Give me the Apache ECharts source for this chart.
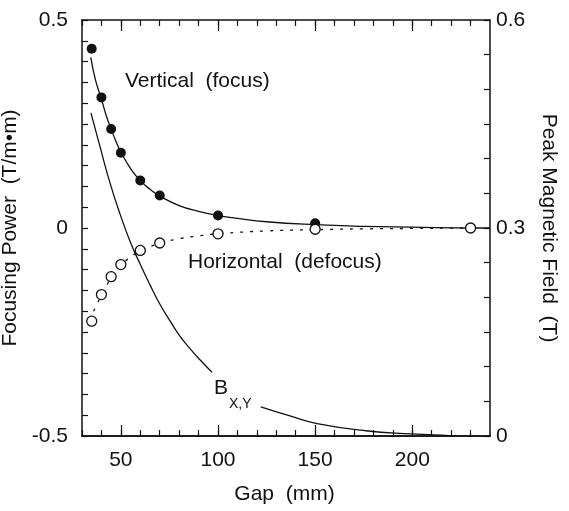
<!DOCTYPE html>
<html>
<head>
<meta charset="utf-8">
<script src="https://cdn.jsdelivr.net/npm/echarts@6/dist/echarts.min.js"></script>
<style>
  html, body { margin: 0; padding: 0; background: #fff; }
  #chart { width: 569px; height: 511px; }
</style>
</head>
<body>
<div id="chart"></div>
<script>
// measured points
const vGap = [35, 40, 45, 50, 60, 70, 100, 150];
const vVal = [0.431, 0.314, 0.238, 0.181, 0.114, 0.078, 0.030, 0.0115];
const hGap = [35, 40, 45, 50, 60, 70, 100, 150, 230];
const hVal = [-0.224, -0.160, -0.117, -0.088, -0.054, -0.036, -0.014, -0.003, 0];

// fitted curves
const vFitGap = [34.5, 37, 40, 42.5, 45, 47.5, 50, 55, 60, 65, 70, 80, 90, 100, 110, 125, 150, 175, 200, 230, 240];
const vFitVal = [0.41, 0.355, 0.31, 0.27, 0.238, 0.208, 0.183, 0.143, 0.114, 0.093, 0.077, 0.054, 0.040, 0.030, 0.023, 0.015, 0.008, 0.004, 0.002, 0.0, 0.0];
const hFitGap = [36, 40, 45, 50, 55, 60, 70, 80, 90, 100, 125, 150, 175, 200, 230];
const hFitVal = [-0.2, -0.162, -0.12, -0.09, -0.07, -0.056, -0.037, -0.026, -0.019, -0.014, -0.007, -0.004, -0.002, -0.001, 0];
// peak field, right axis (T); null leaves room for the label
const bGap = [34.6, 39.3, 44.4, 49.6, 54.7, 59.9, 65, 70.1, 75.3, 80.4, 85.6, 90.7, 96.9, 110, 122, 137, 151, 176, 200, 219, 222];
const bVal = [0.466, 0.417, 0.365, 0.32, 0.281, 0.248, 0.218, 0.19, 0.166, 0.144, 0.126, 0.11, 0.092, null, 0.042, 0.029, 0.018, 0.0076, 0.003, 0.0005, 0];

const xMajor = [50, 100, 150, 200];

const font = "'Liberation Sans', Arial, Helvetica, sans-serif";
const black = '#111';
const clear = 'rgba(0,0,0,0)';
const zip = (a, b) => a.map((x, i) => [x, b[i]]);

const rect = { left: 82, right: 79, top: 20, bottom: 75, outerBoundsMode: 'none' };

// second grid on the same rectangle only carries the gap-axis ticks and the frame
function tickAx(pos, major) {
  const ax = {
    gridIndex: 1, type: 'value', position: pos, min: 30, max: 240,
    splitLine: { show: false },
    axisLine: { show: !major, onZero: false, lineStyle: { color: black, width: 1.5 } },
    axisTick: { show: true, inside: true, length: major ? 11 : 6, lineStyle: { color: black, width: 1.2 } },
    axisLabel: { show: true, color: clear }
  };
  if (major) ax.axisTick.customValues = xMajor;
  else ax.interval = 10;
  return ax;
}

const option = {
  animation: true,
  animationDuration: 1,
  animationDurationUpdate: 1,
  backgroundColor: '#fff',
  grid: [Object.assign({}, rect), Object.assign({}, rect)],
  xAxis: [
    {
      gridIndex: 0, type: 'value', position: 'bottom', min: 30, max: 240, interval: 10,
      splitLine: { show: false },
      axisLine: { show: true, onZero: false, lineStyle: { color: black, width: 1.5 } },
      axisTick: { show: false },
      axisLabel: {
        color: black, fontFamily: font, fontSize: 21, margin: 14,
        formatter: v => (v % 50 === 0 ? String(v) : '')
      }
    },
    tickAx('bottom', false),
    tickAx('bottom', true),
    tickAx('top', false),
    tickAx('top', true)
  ],
  yAxis: [
    {
      gridIndex: 0, type: 'value', position: 'left', min: -0.5, max: 0.5, interval: 0.05,
      splitLine: { show: false }, axisLine: { onZero: false, lineStyle: { color: black, width: 1.5 } },
      axisTick: { inside: true, length: 6, lineStyle: { color: black, width: 1.2 } },
      axisLabel: {
        color: black, fontFamily: font, fontSize: 21, margin: 14,
        formatter: v => { const k = Math.round(v * 100); return k % 50 === 0 ? String(k / 100) : ''; }
      },
      name: 'Focusing Power  (T/m\u2022m)', nameLocation: 'middle', nameRotate: 90, nameGap: 56,
      nameTextStyle: { color: black, fontFamily: font, fontSize: 21 }
    },
    {
      gridIndex: 0, type: 'value', position: 'right', min: 0, max: 0.6, interval: 0.05,
      splitLine: { show: false }, axisLine: { onZero: false, lineStyle: { color: black, width: 1.5 } },
      axisTick: { inside: true, length: 6, lineStyle: { color: black, width: 1.2 } },
      axisLabel: {
        color: black, fontFamily: font, fontSize: 21, margin: 6,
        formatter: v => { const k = Math.round(v * 100); return k % 30 === 0 ? String(k / 100) : ''; }
      },
      name: 'Peak Magnetic Field  (T)', nameLocation: 'middle', nameRotate: -90, nameGap: 48,
      nameTextStyle: { color: black, fontFamily: font, fontSize: 21 }
    },
    {
      gridIndex: 1, type: 'value', position: 'left', min: -0.5, max: 0.5, interval: 0.05,
      axisLine: { show: false, onZero: false },
      axisTick: { show: false },
      axisLabel: { color: clear },
      splitLine: { show: true, lineStyle: { color: clear } }
    }
  ],
  series: [
    {
      type: 'line', xAxisIndex: 0, yAxisIndex: 0, data: zip(vFitGap, vFitVal),
      smooth: true, symbol: 'none', lineStyle: { color: black, width: 1.3 }
    },
    {
      type: 'line', xAxisIndex: 0, yAxisIndex: 0, data: zip(hFitGap, hFitVal),
      smooth: true, symbol: 'none', lineStyle: { color: black, width: 1.3, type: [3, 7] }
    },
    {
      type: 'line', xAxisIndex: 0, yAxisIndex: 1, data: zip(bGap, bVal),
      smooth: true, symbol: 'none', connectNulls: false, lineStyle: { color: black, width: 1.3 }
    },
    {
      type: 'scatter', xAxisIndex: 0, yAxisIndex: 0, data: zip(vGap, vVal), z: 5,
      symbolSize: 10, itemStyle: { color: black, opacity: 1 }
    },
    {
      type: 'scatter', xAxisIndex: 0, yAxisIndex: 0, data: zip(hGap, hVal), z: 5,
      symbolSize: 10, itemStyle: { color: '#fff', borderColor: black, borderWidth: 1.3, opacity: 1 }
    }
  ],
  graphic: [
    { type: 'text', left: 125, top: 71, style: { text: 'Vertical  (focus)', font: '21px ' + font, fill: black } },
    { type: 'text', left: 188, top: 252, style: { text: 'Horizontal  (defocus)', font: '21px ' + font, fill: black } },
    { type: 'text', left: 'center', top: 484, style: { text: 'Gap  (mm)', font: '21px ' + font, fill: black } },
    {
      type: 'text', left: 214, top: 378,
      style: {
        text: '{b|B}{s|X,Y}',
        rich: {
          b: { fontFamily: font, fontSize: 21, fill: black, verticalAlign: 'top' },
          s: { fontFamily: font, fontSize: 14, fill: black, padding: [19, 0, 0, 1], verticalAlign: 'top' }
        }
      }
    }
  ]
};

const chart = echarts.init(document.getElementById('chart'), null, { renderer: 'canvas' });
chart.setOption(option);
</script>
</body>
</html>
